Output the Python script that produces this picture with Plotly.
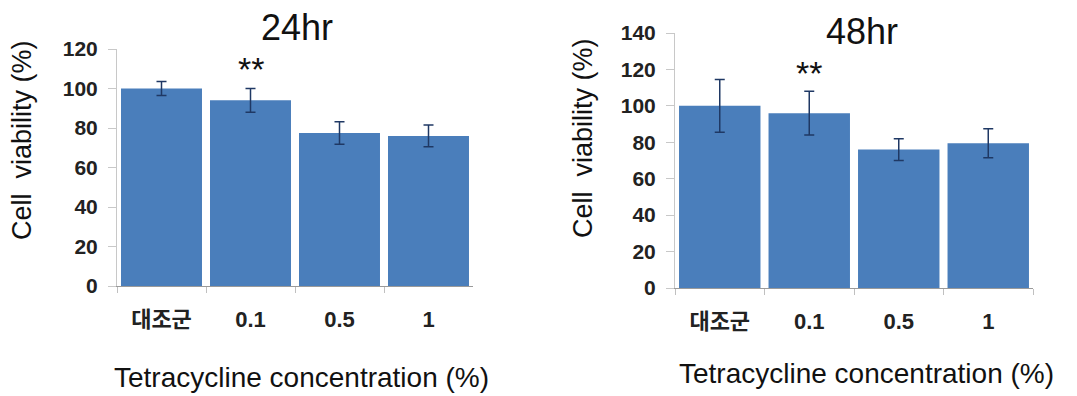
import plotly.graph_objects as go

categories = ["대조군", "0.1", "0.5", "1"]
viab_24 = [100, 94, 77.5, 76]
err_24 = [3.5, 6, 5.7, 5.5]
viab_48 = [100, 96, 76, 79.5]
err_48 = [14.5, 12, 6, 8]
y_ticks_24 = [0, 20, 40, 60, 80, 100, 120]
y_ticks_48 = [0, 20, 40, 60, 80, 100, 120, 140]
sig_label = "**"
sig_category = "0.1"
sig_y_24 = 110
sig_y_48 = 118

W, H = 1077, 396
OX, OY = 8, 8
BAR = "#4a7ebb"
ERR = "#1f3864"
FONT = "Liberation Sans, Arial, Noto Sans CJK KR, sans-serif"

def px(x):
    return (x - OX) / W

def py(y):
    return 1 - (y - OY) / H

fig = go.Figure()
fig.add_trace(go.Bar(x=categories, y=viab_24, xaxis="x", yaxis="y",
                     marker=dict(color=BAR, line=dict(width=0)),
                     error_y=dict(type="data", array=err_24, color=ERR, thickness=1.5, width=5)))
fig.add_trace(go.Bar(x=categories, y=viab_48, xaxis="x2", yaxis="y2",
                     marker=dict(color=BAR, line=dict(width=0)),
                     error_y=dict(type="data", array=err_48, color=ERR, thickness=1.5, width=5)))

xcommon = dict(type="category", showline=True, linecolor="#9a9a9a", linewidth=1,
               ticks="outside", tickson="boundaries", ticklen=6, tickcolor="#c0c0c0",
               tickfont=dict(family=FONT, size=22, color="#222", weight="bold"),
               ticklabelstandoff=14, showgrid=False, zeroline=False, fixedrange=True,
               automargin=False)
ycommon = dict(showline=True, linecolor="#c8c8c8", linewidth=1, ticks="outside",
               ticklen=8, tickcolor="#c8c8c8", showgrid=False, zeroline=False,
               tickfont=dict(family=FONT, size=21, color="#222", weight="bold"),
               ticklabelstandoff=6, fixedrange=True, automargin=False)

fig.update_layout(
    width=W, height=H, margin=dict(l=0, r=0, t=0, b=0, pad=0),
    paper_bgcolor="white", plot_bgcolor="white", showlegend=False, bargap=0.09,
    xaxis=dict(domain=[px(117), px(473)], anchor="y", **xcommon),
    yaxis=dict(domain=[py(286), py(49)], range=[0, 120], tickvals=y_ticks_24,
               anchor="x", **ycommon),
    xaxis2=dict(domain=[px(675), px(1033)], anchor="y2", **xcommon),
    yaxis2=dict(domain=[py(288), py(33)], range=[0, 140], tickvals=y_ticks_48,
                anchor="x2", **ycommon),
)

ann = []
def txt(x, y, s, size, angle=0, xref="paper", yref="paper"):
    ann.append(dict(x=x, y=y, xref=xref, yref=yref, text=s, showarrow=False,
                    textangle=angle, xanchor="center", yanchor="middle",
                    font=dict(family=FONT, size=size, color="#111")))

txt(px(297), py(27), "24hr", 36)
txt(px(862), py(32), "48hr", 36)
txt(px(22), py(140), "Cell  viability (%)", 27, angle=-90)
txt(px(583), py(138), "Cell  viability (%)", 27, angle=-90)
txt(px(301), py(377), "Tetracycline concentration (%)", 28)
txt(px(866), py(373), "Tetracycline concentration (%)", 28)
sig_idx = categories.index(sig_category)
txt(sig_idx, sig_y_24, sig_label, 34, xref="x", yref="y")
txt(sig_idx, sig_y_48, sig_label, 34, xref="x2", yref="y2")
fig.update_layout(annotations=ann)

fig.write_html("out.html")
